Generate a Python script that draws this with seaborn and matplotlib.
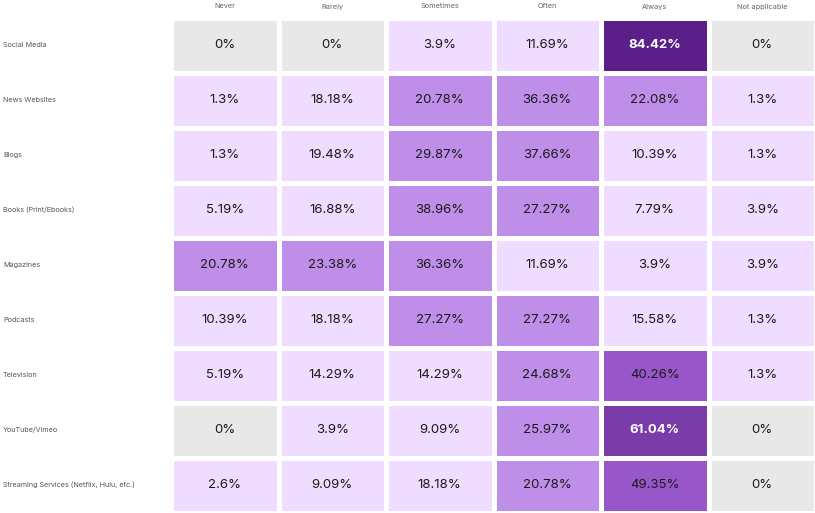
import numpy as np
import pandas as pd
import seaborn as sns
import matplotlib.pyplot as plt
import matplotlib.transforms as mtransforms
from matplotlib.colors import ListedColormap, BoundaryNorm

sources = ['Social Media', 'News Websites', 'Blogs', 'Books (Print/Ebooks)', 'Magazines',
           'Podcasts', 'Television', 'YouTube/Vimeo', 'Streaming Services (Netflix, Hulu, etc.)']
answers = ['Never', 'Rarely', 'Sometimes', 'Often', 'Always', 'Not applicable']

never = [0, 1.3, 1.3, 5.19, 20.78, 10.39, 5.19, 0, 2.6]
rarely = [0, 18.18, 19.48, 16.88, 23.38, 18.18, 14.29, 3.9, 9.09]
sometimes = [3.9, 20.78, 29.87, 38.96, 36.36, 27.27, 14.29, 9.09, 18.18]
often = [11.69, 36.36, 37.66, 27.27, 11.69, 27.27, 24.68, 25.97, 20.78]
always = [84.42, 22.08, 10.39, 7.79, 3.9, 15.58, 40.26, 61.04, 49.35]
not_applicable = [0, 1.3, 1.3, 3.9, 3.9, 1.3, 1.3, 0, 0]

df = pd.DataFrame({'Never': never, 'Rarely': rarely, 'Sometimes': sometimes,
                   'Often': often, 'Always': always, 'Not applicable': not_applicable},
                  index=sources)[answers]

labels = df.apply(lambda col: col.map(lambda v: f'{v:g}%'))

# binned colour scale, 0 shown grey
colors = ['#e8e8e8', '#f0dcfe', '#bf8ee8', '#9857c8', '#7a3ca8', '#5b1f8a']
cmap = ListedColormap(colors)
norm = BoundaryNorm([0, 0.001, 20, 40, 60, 80, 100.01], cmap.N)

plt.rcParams['font.family'] = ['Inter', 'DejaVu Sans']

fig = plt.figure(figsize=(8.15, 5.13), dpi=100)
ax = fig.add_axes([171 / 815, 0.5 / 513, 645 / 815, 495 / 513])

sns.heatmap(df, ax=ax, cmap=cmap, norm=norm, cbar=False, annot=labels, fmt='',
            linewidths=3.6, linecolor='white',
            annot_kws={'fontsize': 9.5, 'color': '#1a1a1a'})

for t, v in zip(ax.texts, df.values.flatten()):
    if v >= 60:
        t.set_color('white')
        t.set_fontweight('bold')
    else:
        t.set_color('#1a1a1a')

ax.set_xticks([])
ax.set_yticks([])
ax.set_xlabel('')
ax.set_ylabel('')
for s in ax.spines.values():
    s.set_visible(False)

# row labels flush left in the figure
tr = mtransforms.blended_transform_factory(fig.transFigure, ax.transData)
for i, name in enumerate(sources):
    ax.text(3 / 815, i + 0.5, name, transform=tr, ha='left', va='center',
            fontsize=5.2, color='#555555', clip_on=False)

# column labels above the grid
tc = mtransforms.blended_transform_factory(ax.transData, fig.transFigure)
for j, name in enumerate(answers):
    ax.text(j + 0.5, 1 - 6.5 / 513, name, transform=tc, ha='center', va='center',
            fontsize=5.3, color='#666666', clip_on=False)

fig.savefig('out.png', dpi=100)
